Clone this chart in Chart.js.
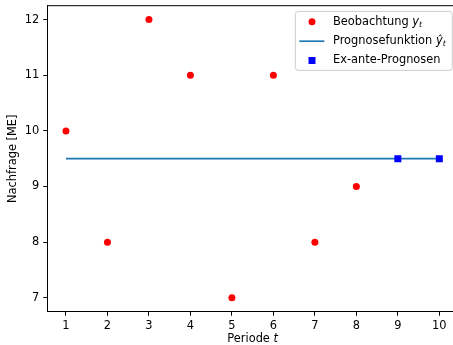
<!DOCTYPE html>
<html>
<head>
<meta charset="utf-8">
<script src="https://cdn.jsdelivr.net/npm/chart.js@4"></script>
<style>
  html, body { margin: 0; padding: 0; overflow: hidden; background: #fff; }
  #demandChart { display: block; width: 453px; height: 345px; }
</style>
</head>
<body>
<canvas id="demandChart" width="453" height="345"></canvas>
<script>
// Nachfrage je Periode und konstante Prognose
const periods = [1, 2, 3, 4, 5, 6, 7, 8];
const demand = [10, 8, 12, 11, 7, 11, 8, 9];
const forecastPeriods = [1, 10];
const forecastValues = [9.5, 9.5];
const exAntePeriods = [9, 10];
const exAnteValues = [9.5, 9.5];
const xTicks = [1, 2, 3, 4, 5, 6, 7, 8, 9, 10];
const yTicks = [7, 8, 9, 10, 11, 12];

const FONT = 'DejaVu Sans';
const FS = 11.4;
const PLOT_RIGHT = 458; // plot area ends just past the canvas edge

function toPoints(xs, ys) {
    return xs.map((x, i) => ({ x: x, y: ys[i] }));
}

// no extra room for overhanging tick labels
function noPadding(s) {
    s.paddingTop = 0;
    s.paddingBottom = 0;
    s.paddingLeft = 0;
    s.paddingRight = 0;
}

// writes "label" followed by an italic symbol with subscript t
function drawMathLabel(ctx, x, y, label, symbol) {
    ctx.font = `${FS}px "${FONT}"`;
    ctx.fillText(label, x, y);
    let cx = x + ctx.measureText(label).width;
    ctx.font = `italic ${FS}px "${FONT}"`;
    ctx.fillText(symbol, cx, y);
    cx += ctx.measureText(symbol).width;
    ctx.font = `italic ${FS * 0.7}px "${FONT}"`;
    ctx.fillText('t', cx, y + 3);
}

// widen the plot area beyond the canvas, layout padding can't go negative
const widenArea = {
    id: 'widenArea',
    afterLayout(chart) {
        const a = chart.chartArea;
        a.right = PLOT_RIGHT;
        a.width = a.right - a.left;
        const xs = chart.scales.x;
        xs.right = PLOT_RIGHT;
        xs.width = xs.right - xs.left;
        xs.configure();
    }
};

const decorations = {
    id: 'decorations',
    afterDraw(chart) {
        const ctx = chart.ctx;
        const a = chart.chartArea;
        ctx.save();

        // top and right spines
        ctx.strokeStyle = '#000';
        ctx.lineWidth = 1;
        ctx.beginPath();
        ctx.moveTo(a.left, a.top);
        ctx.lineTo(a.right, a.top);
        ctx.lineTo(a.right, a.bottom);
        ctx.stroke();

        // axis titles
        ctx.fillStyle = '#000';
        ctx.textBaseline = 'middle';
        const xt = 'Periode ';
        ctx.font = `italic ${FS}px "${FONT}"`;
        const tw = ctx.measureText('t').width;
        ctx.font = `${FS}px "${FONT}"`;
        const pw = ctx.measureText(xt).width;
        const xc = (a.left + a.right) / 2;
        const xs = xc - (pw + tw) / 2;
        ctx.textAlign = 'left';
        ctx.fillText(xt, xs, 339);
        ctx.font = `italic ${FS}px "${FONT}"`;
        ctx.fillText('t', xs + pw, 339);

        ctx.save();
        ctx.translate(13, (a.top + a.bottom) / 2);
        ctx.rotate(-Math.PI / 2);
        ctx.textAlign = 'center';
        ctx.font = `${FS}px "${FONT}"`;
        ctx.fillText('Nachfrage [ME]', 0, 0);
        ctx.restore();

        // legend box, anchored to the upper right of the plot area
        const bw = 157, bh = 59;
        const bx = a.right - 5.7 - bw, by = a.top + 5.7;
        ctx.beginPath();
        ctx.roundRect(bx, by, bw, bh, 3);
        ctx.fillStyle = 'rgba(255,255,255,0.8)';
        ctx.fill();
        ctx.strokeStyle = '#cccccc';
        ctx.lineWidth = 1;
        ctx.stroke();

        const hx = bx + 16.7, tx = bx + 37.7;
        const rows = [by + 10.3, by + 29.8, by + 49.1];

        ctx.fillStyle = '#ff0000';
        ctx.beginPath();
        ctx.arc(hx, rows[0], 3.5, 0, Math.PI * 2);
        ctx.fill();

        ctx.strokeStyle = '#1f77b4';
        ctx.lineWidth = 1.7;
        ctx.beginPath();
        ctx.moveTo(bx + 4, rows[1]);
        ctx.lineTo(bx + 29, rows[1]);
        ctx.stroke();

        ctx.fillStyle = '#0000ff';
        ctx.fillRect(hx - 3.5, rows[2] - 3.5, 7, 7);

        ctx.fillStyle = '#000';
        ctx.textAlign = 'left';
        drawMathLabel(ctx, tx, rows[0], 'Beobachtung ', 'y');
        drawMathLabel(ctx, tx, rows[1], 'Prognosefunktion ', 'ŷ');
        ctx.font = `${FS}px "${FONT}"`;
        ctx.fillText('Ex-ante-Prognosen', tx, rows[2]);

        ctx.restore();
    }
};

Chart.defaults.font.family = FONT;
Chart.defaults.font.size = FS;
Chart.defaults.color = '#000';

new Chart(document.getElementById('demandChart'), {
    type: 'scatter',
    data: {
        datasets: [
            {
                label: 'Ex-ante-Prognosen',
                data: toPoints(exAntePeriods, exAnteValues),
                pointStyle: 'rect',
                pointRadius: 4.95,
                backgroundColor: '#0000ff',
                borderWidth: 0,
                order: 0
            },
            {
                label: 'Prognosefunktion',
                data: toPoints(forecastPeriods, forecastValues),
                showLine: true,
                borderColor: '#1f77b4',
                borderWidth: 1.7,
                pointRadius: 0,
                order: 1
            },
            {
                label: 'Beobachtung',
                data: toPoints(periods, demand),
                pointStyle: 'circle',
                pointRadius: 3.5,
                backgroundColor: '#ff0000',
                borderWidth: 0,
                order: 2
            }
        ]
    },
    options: {
        responsive: false,
        animation: false,
        layout: { padding: { top: 5.7, right: 0, left: 0, bottom: 0 } },
        plugins: { legend: { display: false }, tooltip: { enabled: false } },
        scales: {
            x: {
                type: 'linear',
                min: 0.55,
                max: 10.45,
                afterBuildTicks: s => { s.ticks = xTicks.map(v => ({ value: v })); },
                afterFit: s => { s.height = 33.3; noPadding(s); },
                grid: { drawOnChartArea: false, drawTicks: true, tickLength: 4, color: '#000', lineWidth: 1 },
                border: { display: true, color: '#000', width: 1 },
                ticks: { padding: 4, maxRotation: 0, autoSkip: false, color: '#000' }
            },
            y: {
                type: 'linear',
                min: 6.75,
                max: 12.25,
                afterBuildTicks: s => { s.ticks = yTicks.map(v => ({ value: v })); },
                afterFit: s => { s.width = 47.3; noPadding(s); },
                grid: { drawOnChartArea: false, drawTicks: true, tickLength: 4, color: '#000', lineWidth: 1 },
                border: { display: true, color: '#000', width: 1 },
                ticks: { padding: 4, autoSkip: false, color: '#000' }
            }
        }
    },
    plugins: [widenArea, decorations]
});
</script>
</body>
</html>
